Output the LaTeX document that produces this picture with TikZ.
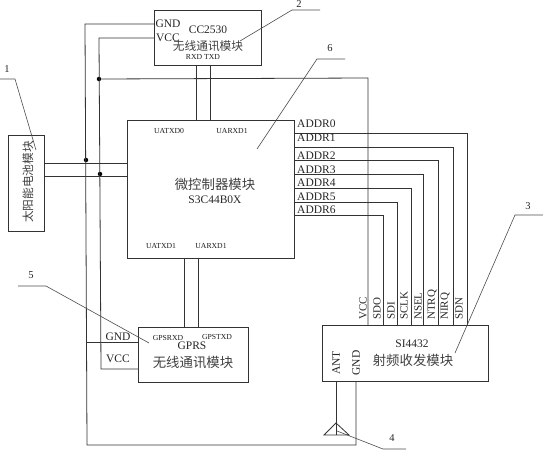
\documentclass[tikz,border=0pt]{standalone}
\usepackage{fontspec}
\setmainfont{Liberation Serif}
\newfontfamily\cjk{Noto Sans CJK SC}
\usetikzlibrary{positioning, calc}
\tikzset{
  modbox/.style={draw, thick, black!80, minimum width=0pt, inner sep=0pt},
  wire/.style={draw, black!80, line width=0.8pt},
  leader/.style={draw, black!70, line width=0.6pt},
  jdot/.style={circle, fill=black, inner sep=0pt, minimum size=4.5pt},
  pinlabel/.style={font=\fontsize{11.5}{12}\selectfont, text=black!85, inner sep=0pt},
  sidelabel/.style={font=\fontsize{11}{12}\selectfont, text=black!85, inner sep=0pt, rotate=90, anchor=west},
  tinylabel/.style={font=\fontsize{7.7}{8}\selectfont, text=black!90, inner sep=0pt},
  cjklabel/.style={font=\cjk\fontsize{11.7}{13}\selectfont, text=black!75, inner sep=0pt},
  cjkbig/.style={font=\cjk\fontsize{13.4}{15}\selectfont, text=black!75, inner sep=0pt},
  numlabel/.style={font=\fontsize{10.5}{11}\selectfont, text=black!85, inner sep=0pt},
}
\begin{document}
\begin{tikzpicture}[x=1pt, y=-1pt]
  \useasboundingbox (0,0) rectangle (543,450);
  % boxes
  \node[modbox, minimum width=107pt, minimum height=55pt] (cc) at (207.5,37.5) {};
  \node[modbox, minimum width=167pt, minimum height=138pt] (mcu) at (210.5,189.5) {};
  \node[modbox, minimum width=36pt, minimum height=96pt] (solar) at (26,183) {};
  \node[modbox, minimum width=110pt, minimum height=55pt] (gprs) at (193,354.5) {};
  \node[modbox, minimum width=166pt, minimum height=56pt] (si) at (405,353) {};

  % module text
  \node[pinlabel] (ccgnd) at (168,24) {GND};
  \node[pinlabel] (ccvcc) at (168,38) {VCC};
  \node[pinlabel] (ccname) at (208,30) {CC2530};
  \node[cjklabel] (cctext) at (208,46) {无线通讯模块};
  \node[tinylabel] (ccrt) at (203,56.5) {RXD TXD};
  \node[tinylabel] (uat0) at (169,131) {UATXD0};
  \node[tinylabel] (uar0) at (232,131) {UARXD1};
  \node[tinylabel] (uat1) at (161,246) {UATXD1};
  \node[tinylabel] (uar1) at (211,246) {UARXD1};
  \node[cjkbig] (mcutext) at (215,184) {微控制器模块};
  \node[pinlabel] (mcuname) at (215,200) {S3C44B0X};
  \node[cjklabel, rotate=90] (solartext) at (28,182) {太阳能电池模块};
  \node[tinylabel] (gpsr) at (168,338) {GPSRXD};
  \node[tinylabel] (gpst) at (217,337) {GPSTXD};
  \node[pinlabel] (gprsname) at (192,346) {GPRS};
  \node[cjkbig] (gprstext) at (193,362) {无线通讯模块};
  \node[pinlabel] (gprsgnd) at (118,337) {GND};
  \node[pinlabel] (gprsvcc) at (118,359) {VCC};
  \node[pinlabel] (siname) at (412,344) {SI4432};
  \node[cjkbig] (sitext) at (413,360) {射频收发模块};
  \node[pinlabel, rotate=90] (siant) at (336,363) {ANT};
  \node[pinlabel, rotate=90] (signdl) at (356,363) {GND};

  % address labels and lines to the radio module
  \foreach \nm/\yy/\ty/\xx/\px/\pin [count=\i from 0] in {ADDR0/133/124/467/459/SDN, ADDR1/147/138/453/445/NIRQ, ADDR2/160/156/438/432/NTRQ, ADDR3/174/170/423/418/NSEL, ADDR4/188/183/411/404/SCLK, ADDR5/202/197/397/391/SDI, ADDR6/215/210/383/377/SDO}{
    \coordinate (a\i) at (294,\yy);
    \coordinate (b\i) at (\xx,325);
    \draw[wire] (a\i) -| (b\i);
    \node[pinlabel, anchor=west] (addr\i) at (297,\ty) {\nm};
    \node[sidelabel] (pin\i) at (\px,320) {\pin};
  }
  \node[sidelabel] (pinvcc) at (363,320) {VCC};

  % power
  \coordinate (gndtop) at (154,24);
  \coordinate (vcctop) at (154,38);
  \coordinate (signdb) at (356,381);
  \coordinate (siantb) at (336,381);
  \coordinate (gndbot) at (87,445);
  \coordinate (vccbot) at (101,369);
  \node[jdot] (jtop) at (99,79) {};
  \node[jdot] (jsola) at (86,160) {};
  \node[jdot] (jsolb) at (100,174) {};
  \draw[wire] (gndtop) -- (85,24) -- (gndbot) -- (356,445) -- (signdb);
  \draw[wire] (vcctop) -- (99,38) -- (vccbot) -- (138,369);
  \draw[wire] (jtop) -- (368,78) -- (368,325);
  \draw[wire] (87,342) -- (138,342);
  \draw[wire] (44,163) -- (127,163);
  \draw[wire] (44,176) -- (127,176);

  % serial lines
  \draw[wire] (196,65) -- (196,120);
  \draw[wire] (210,65) -- (210,120);
  \draw[wire] (184,258) -- (184,327);
  \draw[wire] (198,258) -- (198,327);

  % antenna
  \coordinate (anttop) at (336,423);
  \draw[wire] (siantb) -- (336,435);
  \draw[wire] (anttop) -- (324,435) -- (349,435) -- cycle;

  % leaders
  \draw[leader] (0,79) -- (15,79) -- (36,150);
  \node[numlabel] (n1) at (7,69) {1};
  \draw[leader] (240,41) -- (292,10) -- (320,10);
  \node[numlabel] (n2) at (299,4) {2};
  \draw[leader] (455,353) -- (515,215) -- (543,215);
  \node[numlabel] (n3) at (528,206) {3};
  \draw[leader] (337,431) -- (383,449) -- (406,449);
  \node[numlabel] (n4) at (392,438) {4};
  \draw[leader] (18,286) -- (46,286) -- (149,343);
  \node[numlabel] (n5) at (31,275) {5};
  \draw[leader] (257,149) -- (317,59) -- (345,59);
  \node[numlabel] (n6) at (330,48) {6};
\end{tikzpicture}
\end{document}
